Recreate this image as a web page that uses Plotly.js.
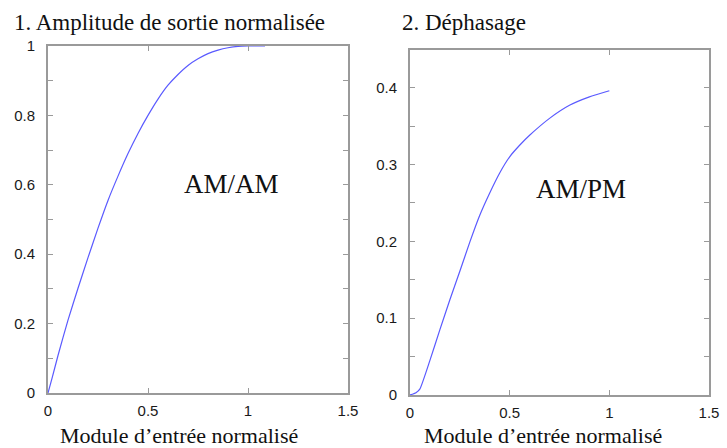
<!DOCTYPE html>
<html>
<head>
<meta charset="utf-8">
<script src="https://cdn.plot.ly/plotly-3.0.1.min.js"></script>
<style>html,body{margin:0;padding:0;background:#fff;}#chart{width:727px;height:448px;}</style>
</head>
<body>
<div id="chart"></div>
<script>
// AM/AM curve (normalized output amplitude vs normalized input modulus)
const amamX = [0, 0.02, 0.05, 0.1, 0.15, 0.2, 0.25, 0.3, 0.35, 0.4, 0.45, 0.5, 0.55, 0.6, 0.65, 0.7, 0.75, 0.8, 0.85, 0.9, 0.95, 1.0, 1.085];
const amamY = [0, 0.042, 0.108, 0.21, 0.302, 0.39, 0.475, 0.555, 0.625, 0.69, 0.748, 0.80, 0.847, 0.887, 0.918, 0.944, 0.963, 0.978, 0.988, 0.995, 0.999, 1.0, 1.0];
// AM/PM curve (phase shift vs normalized input modulus)
const ampmX = [0, 0.03, 0.05, 0.1, 0.15, 0.2, 0.25, 0.3, 0.35, 0.4, 0.45, 0.5, 0.55, 0.6, 0.7, 0.8, 0.9, 1.0];
const ampmY = [0, 0.003, 0.008, 0.045, 0.085, 0.124, 0.161, 0.199, 0.234, 0.263, 0.289, 0.31, 0.325, 0.338, 0.36, 0.377, 0.388, 0.396];

const xTicks = [0, 0.5, 1, 1.5];
const xTickText = ['0', '0.5', '1', '1.5'];
const yTicks1 = [0, 0.2, 0.4, 0.6, 0.8, 1];
const yTickText1 = ['0', '0.2', '0.4', '0.6', '0.8', '1'];
const yTicks2 = [0, 0.1, 0.2, 0.3, 0.4];
const yTickText2 = ['0', '0.1', '0.2', '0.3', '0.4'];

const titles = ['1. Amplitude de sortie normalisée', '2. Déphasage'];
const xTitle = 'Module d’entrée normalisé';
const curveLabels = ['AM/AM', 'AM/PM'];

const lineCol = '#5a5aff';
const axCol = '#9a9a9a';
const tickFont = {family: 'Liberation Sans, Arial, sans-serif', size: 15, color: '#1a1a1a'};
const serif = 'Liberation Serif, Times New Roman, serif';

const traces = [
  {x: amamX, y: amamY, xaxis: 'x', yaxis: 'y', mode: 'lines', line: {color: lineCol, width: 1.2, shape: 'spline', smoothing: 0.5}, showlegend: false, hoverinfo: 'skip'},
  {x: ampmX, y: ampmY, xaxis: 'x2', yaxis: 'y2', mode: 'lines', line: {color: lineCol, width: 1.2, shape: 'spline', smoothing: 0.5}, showlegend: false, hoverinfo: 'skip'}
];

function xa(dom, anchor) {
  return {domain: dom, anchor: anchor, range: [0, 1.5], tickvals: xTicks, ticktext: xTickText,
    ticks: 'inside', ticklen: 5, tickcolor: axCol, showline: true, linecolor: axCol, linewidth: 2,
    mirror: 'ticks', showgrid: false, zeroline: false, tickfont: tickFont, ticklabelstandoff: 3, fixedrange: true};
}
function ya(dom, anchor, rng, tv, tt, minorDt) {
  return {domain: dom, anchor: anchor, range: rng, tickvals: tv, ticktext: tt,
    ticks: 'inside', ticklen: 5, tickcolor: axCol, showline: true, linecolor: axCol, linewidth: 2,
    mirror: 'ticks', showgrid: false, zeroline: false, tickfont: tickFont, ticklabelstandoff: 8,
    minor: {dtick: minorDt, tick0: 0, ticks: 'inside', ticklen: 5, tickcolor: axCol, showgrid: false},
    fixedrange: true};
}

const layout = {
  width: 727, height: 448,
  margin: {l: 0, r: 0, t: 0, b: 0},
  paper_bgcolor: '#fff', plot_bgcolor: '#fff',
  showlegend: false,
  xaxis: xa([48/727, 348/727], 'y'),
  yaxis: ya([55/448, 402/448], 'x', [0, 1], yTicks1, yTickText1, 0.1),
  xaxis2: xa([410/727, 709/727], 'y2'),
  yaxis2: ya([53/448, 398/448], 'x2', [0, 0.449], yTicks2, yTickText2, 0.05),
  annotations: [
    {text: titles[0], xref: 'paper', yref: 'paper', x: 12/727, y: 1 - 22/448, xanchor: 'left', yanchor: 'middle', showarrow: false, font: {family: serif, size: 23, color: '#111'}},
    {text: titles[1], xref: 'paper', yref: 'paper', x: 400/727, y: 1 - 22/448, xanchor: 'left', yanchor: 'middle', showarrow: false, font: {family: serif, size: 23, color: '#111'}},
    {text: xTitle, xref: 'paper', yref: 'paper', x: 179/727, y: 1 - 435/448, xanchor: 'center', yanchor: 'middle', showarrow: false, font: {family: serif, size: 22, color: '#111'}},
    {text: xTitle, xref: 'paper', yref: 'paper', x: 543/727, y: 1 - 435/448, xanchor: 'center', yanchor: 'middle', showarrow: false, font: {family: serif, size: 22, color: '#111'}},
    {text: curveLabels[0], xref: 'paper', yref: 'paper', x: 232/727, y: 1 - 184/448, xanchor: 'center', yanchor: 'middle', showarrow: false, font: {family: serif, size: 27, color: '#111'}},
    {text: curveLabels[1], xref: 'paper', yref: 'paper', x: 581/727, y: 1 - 189/448, xanchor: 'center', yanchor: 'middle', showarrow: false, font: {family: serif, size: 27, color: '#111'}}
  ]
};

Plotly.newPlot('chart', traces, layout, {displayModeBar: false, staticPlot: true});
</script>
</body>
</html>
